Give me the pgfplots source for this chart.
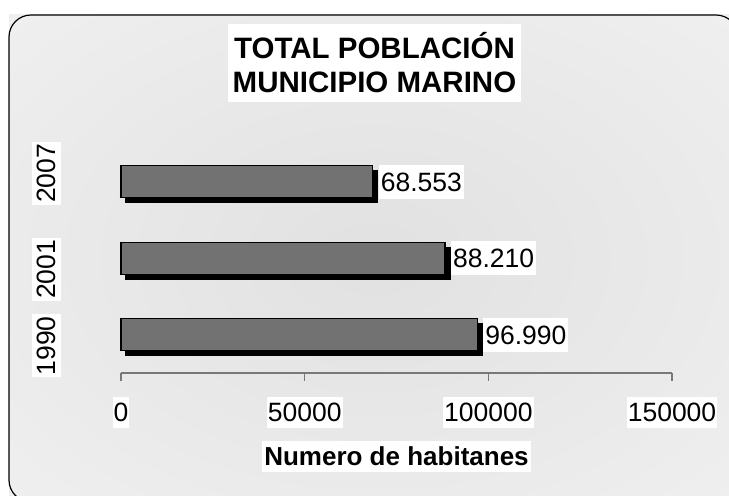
\documentclass[border=0pt]{standalone}
\usepackage{pgfplots}
\pgfplotsset{compat=1.18}
\usepackage{fontspec}
\setmainfont{Liberation Sans}
\usetikzlibrary{shadows}
\definecolor{barfill}{RGB}{114,114,114}
\definecolor{bgin}{RGB}{225,225,225}
\definecolor{bgout}{RGB}{245,245,245}
\definecolor{axgray}{RGB}{120,120,120}
\pgfdeclareradialshading{bgshade}{\pgfpoint{0bp}{0bp}}{color(0bp)=(bgin); color(50bp)=(bgout)}
\begin{document}
\begin{tikzpicture}[x=1bp,y=1bp]
\useasboundingbox (0,0) rectangle (729,496);
\begin{scope}
\clip (0,0) rectangle (729,496);
\shade[shading=bgshade] (9,-6) rectangle (738,481);
\draw[line width=1.2bp, rounded corners=22bp] (9,-6) rectangle (738,481);
\end{scope}
\begin{axis}[
  at={(121bp,123bp)}, anchor=south west,
  scale only axis, width=551bp, height=229.5bp,
  xbar, bar width=32bp,
  xmin=0, xmax=150000, ymin=-0.5, ymax=2.5,
  enlargelimits=false, clip=false,
  axis lines*=left,
  axis line style={-},
  x axis line style={-, draw=axgray, line width=1.3bp},
  y axis line style={draw=none},
  xtick={0,50000,100000,150000},
  scaled x ticks=false,
  tick align=outside, major tick length=8bp,
  xtick style={draw=axgray, line width=1.3bp},
  ytick style={draw=none},
  ytick={-0.144,0.856,2.11},
  yticklabels={1990,2001,2007},
  xticklabel style={/pgf/number format/fixed, /pgf/number format/precision=0,
    /pgf/number format/1000 sep={}, /pgf/number format/assume math mode=true,
    font=\fontsize{26.5bp}{31bp}\selectfont,
    fill=white, text height=18.7bp, text depth=0bp, inner xsep=1bp, inner ysep=6bp, anchor=north},
  xticklabel shift=16bp,
  yticklabel style={font=\fontsize{26.5bp}{31bp}\selectfont, rotate=90, anchor=south,
    fill=white, text height=18.7bp, text depth=0bp, inner xsep=2bp, inner ysep=5bp},
  yticklabel shift=52bp,
  title={TOTAL POBLACIÓN\\MUNICIPIO MARINO},
  title style={at={(axis description cs:0.46,1.3246)}, anchor=center, align=center,
    font=\fontsize{29.5bp}{34bp}\selectfont\bfseries, fill=white, inner xsep=5bp, inner ysep=9bp},
  xlabel={Numero de habitanes},
  xlabel style={at={(axis description cs:0.5,-0.364)}, anchor=center,
    font=\fontsize{26bp}{31bp}\selectfont\bfseries, fill=white, inner xsep=2bp, inner ysep=6bp},
  point meta=x,
  nodes near coords={\pgfmathprintnumber[fixed,precision=0,1000 sep={.},assume math mode=true]{\pgfplotspointmeta}},
  every node near coord/.append style={font=\fontsize{26.5bp}{31bp}\selectfont, fill=white, text=black,
    inner xsep=2bp, inner ysep=7.5bp, text height=18.7bp, text depth=0bp, outer sep=0pt,
    anchor=west, xshift=6bp},
]
\addplot[fill=barfill, draw=black, line width=1.3bp,
  drop shadow={shadow xshift=5bp, shadow yshift=-5bp, fill=black, opacity=1}]
  coordinates {(96990,0) (88210,1) (68553,2)};
\end{axis}
\end{tikzpicture}
\end{document}
